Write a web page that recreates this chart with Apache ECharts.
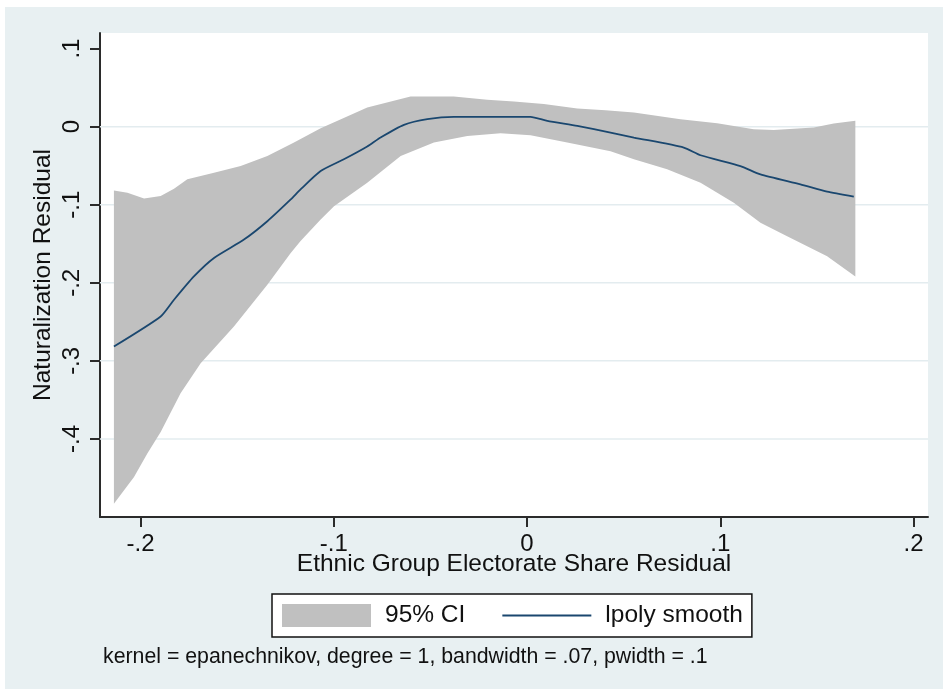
<!DOCTYPE html>
<html>
<head>
<meta charset="utf-8">
<script src="https://cdn.jsdelivr.net/npm/echarts@6/dist/echarts.min.js"></script>
<style>
  html, body { margin: 0; padding: 0; background: #ffffff; }
  #chart { position: absolute; left: 5px; top: 7px; width: 938px; height: 682px; }
</style>
</head>
<body>
<div id="chart"></div>
<script>
// Local polynomial smooth of naturalization residual on electorate share residual
const fitX = [-0.2138, -0.1896, -0.1827, -0.1724, -0.1620, -0.1465, -0.1344, -0.1223, -0.1172,
  -0.1068, -0.0948, -0.0827, -0.0758, -0.0637, -0.0516, -0.0379, 0.0018, 0.0105, 0.0260,
  0.0432, 0.0553, 0.0811, 0.0898, 0.1104, 0.1208, 0.1415, 0.1553, 0.1691];
const fitY = [-0.2817, -0.2432, -0.2217, -0.1918, -0.1681, -0.1446, -0.1211, -0.0932, -0.0803,
  -0.0568, -0.0418, -0.0254, -0.0139, 0.0023, 0.0096, 0.0126, 0.0126, 0.0075, 0.0010,
  -0.0075, -0.0139, -0.0267, -0.0366, -0.0504, -0.0611, -0.0739, -0.0833, -0.0897];

// Upper bound of the 95% confidence band
const upperX = [-0.2138, -0.2068, -0.1982, -0.1896, -0.1827, -0.1758, -0.1620, -0.1482, -0.1344,
  -0.1206, -0.1068, -0.1001, -0.0827, -0.0603, -0.0379, -0.0206, -0.0068, 0.0087, 0.0260,
  0.0406, 0.0553, 0.0794, 0.0984, 0.1173, 0.1277, 0.1484, 0.1587, 0.1699];
const upperY = [-0.0816, -0.0846, -0.0919, -0.0889, -0.0794, -0.0675, -0.0589, -0.0504, -0.0375,
  -0.0203, -0.0019, 0.0054, 0.0247, 0.0388, 0.0388, 0.0344, 0.0324, 0.0289, 0.0234,
  0.0212, 0.0183, 0.0096, 0.0045, -0.0032, -0.0041, -0.0010, 0.0041, 0.0075];

// Lower bound of the 95% confidence band
const lowerX = [-0.2138, -0.2034, -0.1965, -0.1896, -0.1793, -0.1689, -0.1517, -0.1344, -0.1223,
  -0.1172, -0.1068, -0.0999, -0.0827, -0.0654, -0.0482, -0.0309, -0.0137, 0.0018, 0.0208,
  0.0432, 0.0553, 0.0725, 0.0898, 0.1070, 0.1208, 0.1346, 0.1553, 0.1699];
const lowerY = [-0.4830, -0.4488, -0.4188, -0.3910, -0.3416, -0.3031, -0.2560, -0.2024, -0.1617,
  -0.1465, -0.1189, -0.1018, -0.0717, -0.0375, -0.0203, -0.0118, -0.0084, -0.0109, -0.0203,
  -0.0315, -0.0418, -0.0546, -0.0717, -0.0974, -0.1231, -0.1404, -0.1661, -0.1918];

const xTicks = [-0.2, -0.1, 0, 0.1, 0.2];
const yTicks = [-0.4, -0.3, -0.2, -0.1, 0, 0.1];
const yGridValues = [-0.4, -0.3, -0.2, -0.1, 0];

const xTitle = 'Ethnic Group Electorate Share Residual';
const yTitle = 'Naturalization Residual';
const bandName = '95% CI';
const fitName = 'lpoly smooth';
const noteText = 'kernel = epanechnikov, degree = 1, bandwidth = .07, pwidth = .1';

const FONT = '"Liberation Sans", Arial, sans-serif';
const BG = '#e8f0f2';
const GRID = '#e3ecef';
const BAND = '#c0c0c0';
const NAVY = '#1a476f';
const AXIS = '#2b2b2b';

// Stata-style number labels: ".1", "-.2", "0"
function stataNum(v) {
  const r = Math.round(v * 1000) / 1000;
  if (r === 0) return '0';
  const s = String(Math.abs(r)).replace(/^0/, '');
  return (r < 0 ? '-' : '') + s;
}

const chart = echarts.init(document.getElementById('chart'), null, { renderer: 'canvas' });

chart.setOption({
  backgroundColor: BG,
  animation: false,
  textStyle: { fontFamily: FONT },
  grid: {
    left: 95, top: 26, right: 15, bottom: 172,
    show: true, backgroundColor: '#ffffff', borderWidth: 0
  },
  title: {
    text: noteText,
    left: 98, top: 640,
    padding: 0,
    textStyle: { fontFamily: FONT, fontSize: 21.3, fontWeight: 'normal', color: '#111' }
  },
  legend: {
    left: 267, top: 587,
    orient: 'horizontal',
    backgroundColor: '#ffffff',
    borderColor: '#111',
    borderWidth: 1.5,
    borderRadius: 0,
    padding: [9, 9, 9, 10],
    itemGap: 37,
    itemWidth: 89,
    itemHeight: 23,
    selectedMode: false,
    textStyle: { fontFamily: FONT, fontSize: 24.5, color: '#111', padding: [0, 0, 0, 9] },
    data: [
      { name: bandName, icon: 'rect' },
      { name: fitName, icon: 'path://M0,0 L89,0 L89,1.8 L0,1.8 Z' }
    ]
  },
  xAxis: {
    type: 'value',
    min: -0.221, max: 0.2075,
    name: xTitle,
    nameLocation: 'middle',
    nameGap: 35,
    nameMoveOverlap: false,
    nameTextStyle: { fontFamily: FONT, fontSize: 24.5, color: '#111' },
    axisLine: { onZero: false, lineStyle: { color: AXIS, width: 2 } },
    axisTick: { show: true, length: 10, customValues: xTicks, lineStyle: { color: AXIS, width: 2 } },
    axisLabel: {
      customValues: xTicks, margin: 15,
      fontFamily: FONT, fontSize: 24, color: '#111',
      formatter: stataNum
    },
    splitLine: { show: false }
  },
  yAxis: {
    type: 'value',
    min: -0.5, max: 0.12,
    name: yTitle,
    nameLocation: 'middle',
    nameGap: 44,
    nameMoveOverlap: false,
    nameTextStyle: { fontFamily: FONT, fontSize: 24.5, color: '#111' },
    axisLine: { onZero: false, lineStyle: { color: AXIS, width: 2 } },
    axisTick: { show: true, length: 10, customValues: yTicks, lineStyle: { color: AXIS, width: 2 } },
    axisLabel: {
      customValues: yTicks, margin: 16, rotate: 90,
      fontFamily: FONT, fontSize: 24, color: '#111',
      formatter: stataNum
    },
    splitLine: { show: false }
  },
  series: [
    {
      // horizontal reference lines
      type: 'custom',
      name: 'grid',
      z: 1,
      silent: true,
      data: yGridValues.map(v => [0, v]),
      renderItem: function (params, api) {
        const cs = params.coordSys;
        const y = api.coord([0, api.value(1)])[1];
        return {
          type: 'line',
          shape: { x1: cs.x, y1: y, x2: cs.x + cs.width, y2: y },
          style: { stroke: GRID, lineWidth: 1.5 }
        };
      }
    },
    {
      // confidence band polygon: upper edge forward, lower edge back
      type: 'custom',
      name: bandName,
      z: 2,
      silent: true,
      itemStyle: { color: BAND },
      data: [[upperX[0], upperY[0]]],
      renderItem: function (params, api) {
        const pts = [];
        for (let i = 0; i < upperX.length; i++) pts.push(api.coord([upperX[i], upperY[i]]));
        for (let i = lowerX.length - 1; i >= 0; i--) pts.push(api.coord([lowerX[i], lowerY[i]]));
        return { type: 'polygon', shape: { points: pts }, style: { fill: BAND } };
      }
    },
    {
      type: 'line',
      name: fitName,
      z: 3,
      symbol: 'none',
      smooth: 0.2,
      lineStyle: { color: NAVY, width: 1.8 },
      itemStyle: { color: NAVY },
      data: fitX.map((x, i) => [x, fitY[i]])
    }
  ]
});
</script>
</body>
</html>
